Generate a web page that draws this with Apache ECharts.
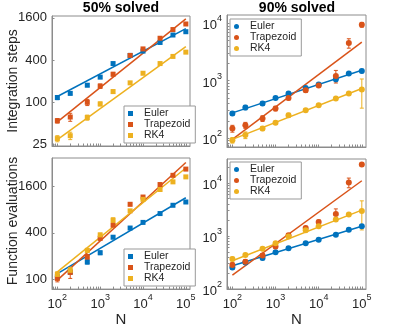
<!doctype html>
<html lang="en">
<head>
<meta charset="UTF-8">
<title>Integration steps and function evaluations</title>
<style>
    html, body { margin: 0; padding: 0; background: #fff; }
    #main { width: 399px; height: 328px; }
</style>
</head>
<body>
<div id="main"></div>
<script src="https://cdn.jsdelivr.net/npm/echarts@6.0.0/dist/echarts.min.js"></script>
<script>
var N = [100, 200, 500, 1000, 2000, 5000, 10000, 25000, 50000, 100000];
var fitN = [100, 100000];
var methods = ['Euler', 'Trapezoid', 'RK4'];
var colors = ['#0072BD', '#D95319', '#EDB120'];

// 50% solved - integration steps
var euler50Steps = [116, 133, 174, 227, 355, 464, 535, 711, 909, 1013];
var trap50Steps = [54, 61, 99, 169, 250, 464, 575, 817, 1088, 1307];
var rk450Steps = [30, 33, 60, 94, 141, 188, 258, 355, 449, 517];
var euler50StepsErr = [8, 6, 8, 8, 12, 12, 10, 12, 15, 20];
var trap50StepsErr = [4, 8, 10, 12, 15, 20, 20, 20, 25, 30];
var rk450StepsErr = [3, 4, 5, 6, 8, 8, 10, 10, 12, 15];
var euler50StepsFit = [120, 1120];
var trap50StepsFit = [52, 1550];
var rk450StepsFit = [29, 620];

// 90% solved - integration steps
var euler90Steps = [269, 342, 401, 502, 598, 750, 859, 1062, 1334, 1480];
var trap90Steps = [147, 168, 220, 328, 502, 684, 830, 1213, 4545, 9490];
var rk490Steps = [92, 113, 147, 185, 251, 307, 375, 490, 598, 703];
var euler90StepsErr = [20, 30, 30, 30, 30, 40, 40, 100, 60, 100];
var trap90StepsErr = [20, 20, 25, 30, 40, 60, 50, 300, 850, 900];
var rk490StepsErr = [10, 15, 12, 12, 20, 15, 15, 25, 30, 370];
var euler90StepsFit = [275, 1524];
var trap90StepsFit = [95, 4730];
var rk490StepsFit = [95, 731];

// 50% solved - function evaluations
var euler50Evals = [108, 125, 168, 221, 351, 461, 545, 709, 907, 1000];
var trap50Evals = [103, 123, 195, 340, 503, 934, 1159, 1680, 2210, 2660];
var rk450Evals = [116, 131, 237, 376, 584, 768, 1081, 1450, 1820, 2110];
var euler50EvalsErr = [8, 8, 10, 12, 15, 15, 15, 20, 25, 30];
var trap50EvalsErr = [10, 20, 15, 20, 25, 40, 40, 50, 60, 60];
var rk450EvalsErr = [10, 12, 15, 20, 40, 30, 40, 40, 50, 60];
var euler50EvalsFit = [119, 1135];
var trap50EvalsFit = [98, 3240];
var rk450EvalsFit = [125, 2745];

// 90% solved - function evaluations
var euler90Evals = [255, 317, 385, 492, 586, 729, 846, 1052, 1309, 1517];
var trap90Evals = [283, 327, 425, 631, 1023, 1409, 1833, 2570, 10140, 22000];
var rk490Evals = [368, 438, 570, 729, 977, 1273, 1517, 2036, 2535, 2930];
var euler90EvalsErr = [20, 25, 30, 30, 40, 40, 50, 60, 80, 100];
var trap90EvalsErr = [30, 30, 40, 50, 80, 100, 150, 650, 2100, 1500];
var rk490EvalsErr = [30, 30, 40, 50, 60, 80, 80, 150, 150, 1635];
var euler90EvalsFit = [274, 1517];
var trap90EvalsFit = [182, 10900];
var rk490EvalsFit = [341, 3060];

// tick labels
var nTicks = [100, 1000, 10000, 100000];
var steps50Ticks = [25, 100, 400, 1600];
var evals50Ticks = [100, 400, 1600];
var powTicks = [100, 1000, 10000];

var FONT = 'Liberation Sans, Arial, Helvetica, sans-serif';
var TXT = '#262626';
var FRAME = '#8c8c8c';

// log minor tick positions (2..9 x 10^k)
var logTicks = [];
for (var k = 1; k <= 5; k++) {
    for (var m = 1; m <= 9; m++) logTicks.push(m * Math.pow(10, k));
}

var panels = [
    {grid: {left: 52, top: 16, width: 138, height: 130}, xLabels: false,
     ymin: 23.5, ymax: 1700, yTicks: steps50Ticks, yTickMarks: steps50Ticks, pow: false, symbol: 'rect',
     vals: [euler50Steps, trap50Steps, rk450Steps], errs: [euler50StepsErr, trap50StepsErr, rk450StepsErr],
     fits: [euler50StepsFit, trap50StepsFit, rk450StepsFit]},
    {grid: {left: 227, top: 15, width: 139, height: 132}, xLabels: false,
     ymin: 70, ymax: 14000, yTicks: powTicks, yTickMarks: logTicks, pow: true, symbol: 'circle',
     vals: [euler90Steps, trap90Steps, rk490Steps], errs: [euler90StepsErr, trap90StepsErr, rk490StepsErr],
     fits: [euler90StepsFit, trap90StepsFit, rk490StepsFit]},
    {grid: {left: 52, top: 158, width: 138, height: 133}, xLabels: true,
     ymin: 75, ymax: 3700, yTicks: evals50Ticks, yTickMarks: evals50Ticks, pow: false, symbol: 'rect',
     vals: [euler50Evals, trap50Evals, rk450Evals], errs: [euler50EvalsErr, trap50EvalsErr, rk450EvalsErr],
     fits: [euler50EvalsFit, trap50EvalsFit, rk450EvalsFit]},
    {grid: {left: 227, top: 159, width: 139, height: 130}, xLabels: true,
     ymin: 100, ymax: 28000, yTicks: powTicks, yTickMarks: logTicks, pow: true, symbol: 'circle',
     vals: [euler90Evals, trap90Evals, rk490Evals], errs: [euler90EvalsErr, trap90EvalsErr, rk490EvalsErr],
     fits: [euler90EvalsFit, trap90EvalsFit, rk490EvalsFit]}
];

function powLabel(v) {
    return '{b|10}{e|' + Math.round(Math.log10(v)) + '}';
}
function plainLabel(v) {
    return String(Math.round(v));
}
var powRich = {
    b: {fontSize: 13, fontFamily: FONT, color: TXT, lineHeight: 18, verticalAlign: 'bottom'},
    e: {fontSize: 9, fontFamily: FONT, color: TXT, lineHeight: 10, verticalAlign: 'top'}
};

function renderErr(params, api) {
    var x = api.value(0);
    var p1 = api.coord([x, api.value(2)]);
    var p2 = api.coord([x, api.value(1)]);
    var style = {stroke: api.visual('color'), lineWidth: 1};
    return {
        type: 'group',
        children: [
            {type: 'line', shape: {x1: p1[0], y1: p1[1], x2: p2[0], y2: p2[1]}, style: style},
            {type: 'line', shape: {x1: p1[0] - 2, y1: p1[1], x2: p1[0] + 2, y2: p1[1]}, style: style},
            {type: 'line', shape: {x1: p2[0] - 2, y1: p2[1], x2: p2[0] + 2, y2: p2[1]}, style: style}
        ]
    };
}

var grids = [], xAxes = [], yAxes = [], series = [];
panels.forEach(function (p, i) {
    grids.push(Object.assign({show: true, borderColor: FRAME, borderWidth: 1}, p.grid));
    xAxes.push({
        type: 'log', gridIndex: i, min: 75, max: 125000,
        axisLine: {show: true, lineStyle: {color: FRAME}},
        axisTick: {show: true, inside: true, length: 2.5, customValues: logTicks, lineStyle: {color: FRAME}},
        axisLabel: {show: p.xLabels, customValues: nTicks, formatter: powLabel, rich: powRich, margin: 4},
        splitLine: {show: false},
        name: p.xLabels ? 'N' : '', nameLocation: 'middle', nameGap: 19,
        nameTextStyle: {fontSize: 15, fontFamily: FONT, color: TXT}
    });
    yAxes.push({
        type: 'log', gridIndex: i, min: p.ymin, max: p.ymax,
        axisLine: {show: true, lineStyle: {color: FRAME}},
        axisTick: {show: true, inside: true, length: 2.5, customValues: p.yTickMarks, lineStyle: {color: FRAME}},
        axisLabel: p.pow
            ? {customValues: p.yTicks, formatter: powLabel, rich: powRich, margin: 5}
            : {customValues: p.yTicks, formatter: plainLabel, fontSize: 13, fontFamily: FONT, color: TXT, margin: 5},
        splitLine: {show: false}
    });
    for (var j = 0; j < 3; j++) {
        var vals = p.vals[j], errs = p.errs[j];
        var pts = [], bars = [];
        for (var q = 0; q < N.length; q++) {
            pts.push([N[q], vals[q]]);
            if (errs[q] > 0) bars.push([N[q], vals[q] - errs[q], vals[q] + errs[q]]);
        }
        series.push({
            type: 'line', name: methods[j] + ' fit', xAxisIndex: i, yAxisIndex: i,
            data: [[fitN[0], p.fits[j][0]], [fitN[1], p.fits[j][1]]],
            showSymbol: false, silent: true,
            lineStyle: {color: colors[j], width: 1.5}, z: 2
        });
        series.push({
            type: 'custom', name: methods[j] + ' err', xAxisIndex: i, yAxisIndex: i,
            data: bars, renderItem: renderErr, encode: {x: 0, y: [1, 2]},
            itemStyle: {color: colors[j]}, silent: true, z: 3
        });
        series.push({
            type: 'scatter', name: methods[j], xAxisIndex: i, yAxisIndex: i,
            data: pts, symbol: p.symbol, symbolSize: p.symbol === 'rect' ? 5 : 6,
            itemStyle: {color: colors[j], opacity: 1}, z: 4
        });
    }
});

function legendAt(left, top, icon) {
    return {
        left: left, top: top, orient: 'vertical', data: methods, icon: icon,
        itemWidth: 5, itemHeight: 5, itemGap: 0,
        padding: [2, 5, 2, 4],
        formatter: function (n) { return '{t|' + n + '}'; },
        textStyle: {rich: {t: {fontSize: 10.5, fontFamily: FONT, color: TXT, lineHeight: 12.5, padding: [0, 0, 0, 6]}}},
        borderColor: '#999', borderWidth: 1, backgroundColor: '#fff',
        selectedMode: false
    };
}

var option = {
    animation: false,
    backgroundColor: '#fff',
    grid: grids,
    xAxis: xAxes,
    yAxis: yAxes,
    series: series,
    legend: [
        legendAt(124, 106, 'rect'),
        legendAt(230, 19, 'circle'),
        legendAt(124, 249, 'rect'),
        legendAt(230, 162, 'circle')
    ],
    graphic: [
        {type: 'text', x: 121, y: 8, style: {text: '50% solved', font: 'bold 14px ' + FONT, fill: '#000', align: 'center', verticalAlign: 'middle'}},
        {type: 'text', x: 297, y: 8, style: {text: '90% solved', font: 'bold 14px ' + FONT, fill: '#000', align: 'center', verticalAlign: 'middle'}},
        {type: 'text', x: 13, y: 81, rotation: Math.PI / 2, style: {text: 'Integration steps', font: '14px ' + FONT, fill: TXT, align: 'center', verticalAlign: 'middle'}},
        {type: 'text', x: 13, y: 221, rotation: Math.PI / 2, style: {text: 'Function evaluations', font: '14px ' + FONT, fill: TXT, align: 'center', verticalAlign: 'middle'}}
    ]
};

var myChart = echarts.init(document.getElementById('main'));
myChart.setOption(option);
</script>
</body>
</html>
